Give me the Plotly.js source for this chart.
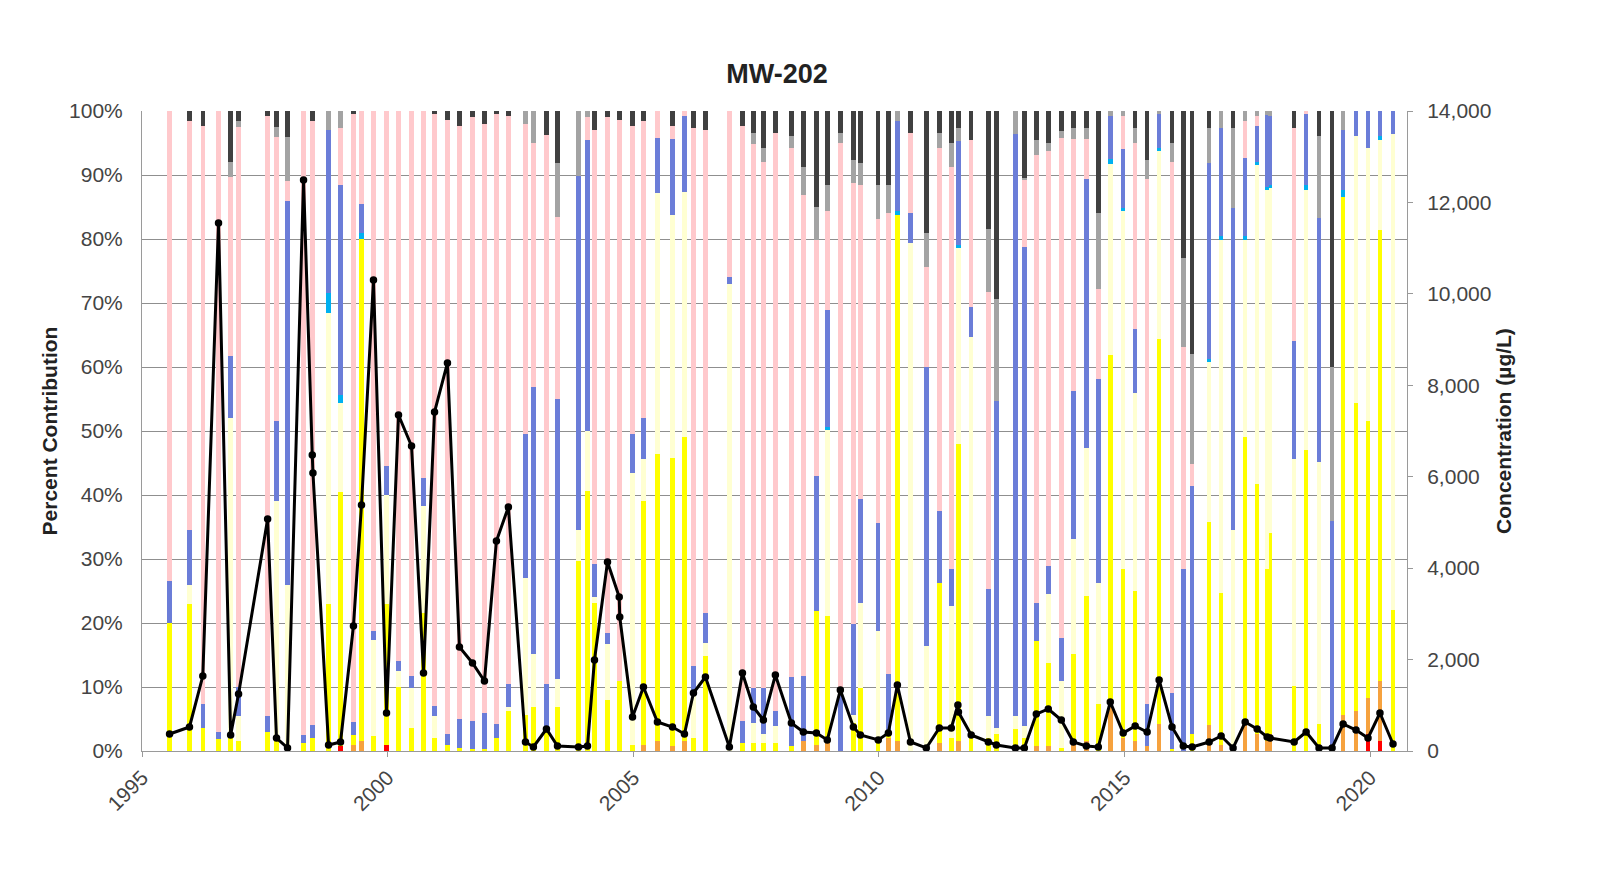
<!DOCTYPE html>
<html>
<head>
<meta charset="utf-8">
<script src="https://cdn.plot.ly/plotly-3.0.1.min.js"></script>
<style>html,body{margin:0;padding:0;background:#fff;}#chart{width:1610px;height:879px;}</style>
</head>
<body>
<div id="chart"></div>
<script>
const dates = ['1995-07-25','1995-12-20','1996-03-28','1996-07-23','1996-10-21','1996-12-19','1997-07-23','1997-09-27','1997-12-18','1998-04-16',
'1998-06-20','1998-06-25','1998-10-19','1999-01-16','1999-04-22','1999-06-21','1999-09-18','1999-12-24','2000-03-22','2000-06-27',
'2000-09-24','2000-12-15','2001-03-21','2001-06-18','2001-09-23','2001-12-21','2002-03-20','2002-06-17','2002-10-22','2002-12-20',
'2003-03-27','2003-06-17','2003-11-20','2004-01-26','2004-03-18','2004-06-23','2004-09-18','2004-09-22','2004-12-26','2005-03-17',
'2005-06-29','2005-10-19','2006-01-16','2006-03-24','2006-06-21','2006-12-16','2007-03-23','2007-06-12','2007-08-26','2007-11-23',
'2008-03-21','2008-06-18','2008-09-23','2008-12-13','2009-03-20','2009-06-25','2009-08-16','2009-12-27','2010-03-12','2010-05-18',
'2010-08-23','2010-12-19','2011-03-26','2011-06-23','2011-08-11','2011-08-15','2011-11-18','2012-03-24','2012-05-23','2012-10-11',
'2012-12-17','2013-03-16','2013-06-13','2013-09-18','2013-12-16','2014-03-23','2014-06-20','2014-09-17','2014-12-22','2015-03-21',
'2015-06-18','2015-09-15','2015-12-20','2016-03-13','2016-05-18','2016-09-21','2016-12-19','2017-03-18','2017-06-16','2017-09-13',
'2017-11-26','2017-12-18','2018-06-15','2018-09-12','2018-12-17','2019-03-24','2019-06-14','2019-09-18','2019-12-16','2020-03-14',
'2020-06-19'];

const red = [0,0,0,0,0,0,0,0,0,0, 0,0,0,0.8,0,0,0,1,0,0, 0,0,0,0,0,0,0,0,0,0, 0,0,0,0,0,0,0,0,0,0,
0,0,0,0,0,0,0,0,0,0, 0,0,0,0,0,0,0,0,0,0, 0,0,0,0,0,0,0,0,0,0, 0,0,0,0,0,0,0,0,0,0,
0,0,0,0,0,0,0,0,0,0, 0,0,0,0,0,0,0,0,2.6,1.6, 0];

const orange = [0,0,0,0,0,0,0,0,0,0, 0,0,0,0,1,1.5,0,0,0,0, 0,0,0,0,0,0,0,0,0,0, 0,0,0,0,0,0,0,0,0,1,
1.6,0.8,1.6,0,0,0,0,0,0,0, 0,1.6,1,1.3,0,0,0,0,2,1.6, 0,0,1.3,0,1.6,1.6,0,0,0,0, 0,0.8,0.8,0,1.6,1.6,0,7.5,2.1,1.6,
0.8,4.2,0,0,0,4,1,0,4.7,2.6, 1.5,2.6,0,0,0,0,5.7,6.3,5.7,9.4, 0];

const yellow = [20,23,3.6,1.8,2,1.5,3,1.5,0,1.3, 2,2,23,40,1.5,78.5,2.3,22,10,3.6, 21.6,2,1,0.5,0.3,0.3,2.1,6.2,5.7,6.8,
3.4,6.8,29.7,40.6,23.2,8,10.9,10.9,1,38, 44.8,45,47.4,2,14.8,0,1.3,1.3,1.3,1.3, 0.8,0,20.9,19.8,0,4.4,9.9,2,0.6,82.2,
0,0,25,2,46.3,46.3,2,2,2.6,3.4, 2,16.4,13,0.5,13.5,22.6,7.3,54.3,26.3,23.4, 0,60.2,0.3,0,2.6,31.7,23.7,1,44.3,39.1,
26.9,31.5,10.2,47.1,4.2,0.5,80.9,48.1,43.2,70.4, 22.1];

const lightYellow = [0,3,0,0,50,4,0,37.5,26,0, 0,0,45.5,14,0,0,15,17,2.5,6.3, 16.7,3.5,0,0,0,0,0,0.6,21.4,8.3,
0,4.4,4.9,9.4,0.8,8.7,0,0,42.5,6.6, 40.8,38,38.4,7.4,2.1,73,0,3.1,1.3,2.6, 0,0,0,29,0,1.3,13.3,16.8,0,0,
79.3,16.4,0,20.7,30.7,30.7,62.7,3.5,1,2.1, 1.9,0,10.7,10.4,18,23.2,19,29.8,56,31, 0,29.3,0,0,0,24.8,55.2,33.6,30.9,49.9,
59.3,53.8,35.4,40.6,40.9,0,0,41.7,42.7,14.1, 74.3];

const cyan = [0,0,0,0,0,0,0,0,0,0, 0,0,3,1.3,0,1,0,0,0,0, 0,0,0,0,0,0,0,0,0,0, 0,0,0,0,0,0,0,0,0,0,
0,0,0,0,0,0,0,0,0,0, 0,0,0,0.5,0,0,0,0,0,0.5, 0,0,0,0,0.5,0.5,0,0,0,0, 0,0,0,0,0,0,0,0.8,0.5,0,
0,0.5,0,0,0,0.5,0.5,0,0.5,0.5, 0.5,0.5,0,0.8,0,0,1,0,0,0.6, 0];

const blue = [6.5,8.5,3.7,1.2,9.7,4.5,2.5,12.5,60,1.2, 2,2,25.5,33,2,4.5,1.5,4.5,1.5,1.8, 4.4,1.5,1.6,4.5,4.4,5.7,2.1,3.6,22.4,41.7,
7.1,43.8,55.2,45.5,5.2,1.8,0,0,6,6.4, 8.6,11.8,11.8,3.9,4.7,1,3.4,5.5,7.3,2.3, 10.7,10.1,21.1,18.3,9.4,14.1,16.1,16.9,9.4,14.2,
4.7,43.6,11.2,5.7,16.2,16.2,4.7,19.8,51.1,90.9, 74.9,6,4.4,6.8,23.2,41.9,31.8,6.7,9.1,10, 6.5,5.3,8.8,28.4,38.8,30.5,17,50.2,12.3,5.6,
11.2,10.8,18.5,11,38.2,35.4,9.4,3.9,5.8,3.9, 3.6];

const pink = [73.5,64,90.3,97,28,87.5,93.7,44.5,3,97.5, 94.5,94.5,0,9,95,14.5,81.2,55.5,86,88.3, 57.3,92.5,96,92.6,94.3,92,95.3,88.8,48.4,38.2,
85.8,28.5,0,3.5,67.9,80.5,87.7,87.7,48.1,46.4, 4.2,2,0.8,84,75.4,26,92.9,84.9,82.2,90.4, 82.7,75.2,36.8,15.5,85.6,68.9,49.2,47.5,72,0,
12.6,15.7,56.7,62.9,0,0,26.1,46.4,0,0, 10.4,70,64.8,78.1,39.4,6.4,14.1,0,5.2,29, 82,0,83,34.7,3.4,0,0,0,5.8,1.5,
0,0,33.2,0.5,0,0,0,0,0,0, 0];

const gray = [0,0,0,0,2.4,1,0,1.5,7,0, 0,0,3,2.7,0,0,0,0,0,0, 0,0,0,0,0,0,0,0,2.1,5,
0,8.4,10.2,1,0,0,0,0,0,0, 0,0,0,0,0,0,0,1.8,2.1,0, 1.9,4.4,5.2,4,1.6,3.7,3.4,5.3,4.5,1.5,
0,5.3,2.4,3.7,2.1,2.1,0,9.9,15.9,3.6, 0.3,2.3,1.3,1.1,1.6,1.6,11.8,0.8,0.8,2.4, 3.1,0.5,2.9,13.9,17.2,5.4,2.6,12.5,1.5,0.8,
0.6,0.8,0,0,12.8,24.1,3,0,0,0, 0];

const darkGray = [0,1.5,2.4,0,7.9,1.5,0.8,2.5,4,0, 1.5,1.5,0,0,0.5,0,0,0,0,0, 0,0.5,1.4,2.4,1,2,0.5,0.8,0,0,
3.7,8.1,0,0,2.9,1,1.4,1.4,2.4,1.6, 0,2.4,0,2.7,3,0,2.4,3.4,5.8,3.4, 3.9,8.7,15,11.6,3.4,7.6,8.1,11.5,11.5,0,
3.4,19,3.4,5,2.6,2.6,4.5,18.4,29.4,0, 10.5,4.5,5,3.1,2.7,2.7,16,0,0,2.6, 7.6,0,5,23,38,2.7,0,2.7,0,0,
0,0,2.7,0,3.9,40,0,0,0,0, 0];

const concentration = [372,525,1640,11550,350,1247,5075,284,66,12490, 6475,6081,131,197,2734,5381,10303,831,7350,6672,
1706,7416,8490,2275,1925,1531,4594,5337,197,88, 481,109,88,109,1990,4134,3369,2931,744,1400,
634,525,372,1269,1619,90,1706,963,678,1662, 612,416,394,241,1334,525,350,241,394,1444,
197,66,503,503,1006,853,350,197,131,66, 66,809,919,678,197,109,88,1072,394,547,
416,1553,525,109,88,197,328,66,634,481, 306,284,197,416,66,66,591,459,284,831, 153];

const components = [
  {name:'red', values:red, color:'#FF0000'},
  {name:'orange', values:orange, color:'#F6A23E'},
  {name:'yellow', values:yellow, color:'#FFFF00'},
  {name:'light yellow', values:lightYellow, color:'#FFFFD2'},
  {name:'cyan', values:cyan, color:'#00B0F0'},
  {name:'blue', values:blue, color:'#6B7DD8'},
  {name:'pink', values:pink, color:'#FFC9CC'},
  {name:'gray', values:gray, color:'#A3A3A3'},
  {name:'dark gray', values:darkGray, color:'#404040'}
];

const barWidth = 33 * 86400000;
const FONT = 'Liberation Sans, Arial, Helvetica, sans-serif';

const traces = components.map(c => ({
  type:'bar', x:dates, y:c.values, name:c.name,
  marker:{color:c.color, line:{width:0}},
  width: dates.map(() => barWidth),
  hoverinfo:'skip', showlegend:false
}));

traces.push({
  type:'scatter', mode:'lines+markers', x:dates, y:concentration, yaxis:'y2',
  line:{color:'#000000', width:3}, marker:{color:'#000000', size:7.5},
  showlegend:false, hoverinfo:'skip', cliponaxis:false
});

const layout = {
  width:1610, height:879,
  margin:{l:142, r:203, t:111, b:128},
  paper_bgcolor:'#ffffff', plot_bgcolor:'#ffffff',
  font:{family:FONT, size:21, color:'#333333'},
  title:{text:'<b>MW-202</b>', x:0.4826, xref:'container', xanchor:'center', y:1-74/879, yref:'container', yanchor:'middle',
         font:{family:FONT, size:27, color:'#222222'}},
  barmode:'stack', barnorm:'percent',
  showlegend:false, hovermode:false,
  xaxis:{type:'date', range:['1995-01-01','2020-10-01'], tickformat:'%Y', dtick:'M60', tick0:'1995-01-01',
         tickangle:-45, ticks:'outside', ticklen:5, tickcolor:'#999999', showline:true, linecolor:'#9a9a9a', linewidth:1,
         showgrid:false, zeroline:false, tickfont:{size:21, color:'#444444'}},
  yaxis:{range:[0,100], dtick:10, ticksuffix:'%', showgrid:true, gridcolor:'#8f8f8f', gridwidth:1,
         showline:true, linecolor:'#9a9a9a', zeroline:false, ticks:'', ticklabelstandoff:14,
         tickfont:{size:21, color:'#444444'},
         title:{text:'<b>Percent Contribution</b>', font:{size:21, color:'#222222'}, standoff:5}},
  yaxis2:{range:[0,14000], dtick:2000, tickformat:',d', overlaying:'y', side:'right', showgrid:false,
          showline:true, linecolor:'#9a9a9a', zeroline:false, ticks:'outside', ticklen:5, tickcolor:'#999999',
          ticklabelstandoff:10,
          tickfont:{size:21, color:'#444444'},
          title:{text:'<b>Concentration (µg/L)</b>', font:{size:21, color:'#222222'}, standoff:5}}
};

Plotly.newPlot('chart', traces, layout, {displayModeBar:false, staticPlot:true});
</script>
</body>
</html>
